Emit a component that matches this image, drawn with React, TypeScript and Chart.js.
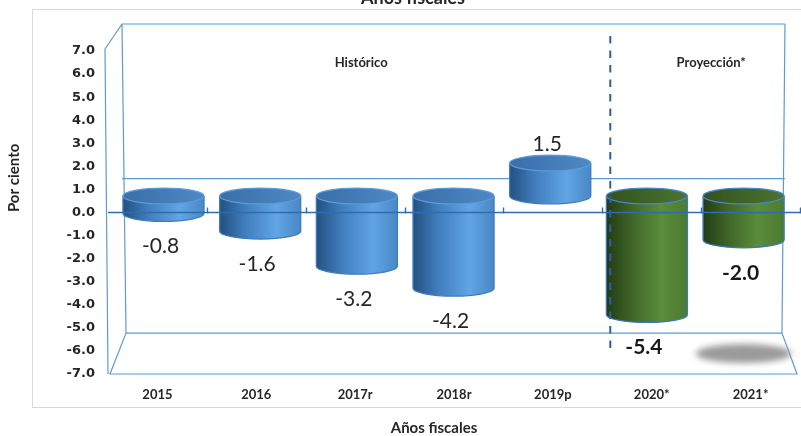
import React, { useEffect, useRef } from 'react';
import { Chart, registerables } from 'chart.js';

Chart.register(...registerables);

// ---- data ----
const categories = ['2015', '2016', '2017r', '2018r', '2019p', '2020*', '2021*'];
const values = [-0.8, -1.6, -3.2, -4.2, 1.5, -5.4, -2.0];
const periods = ['Histórico', 'Histórico', 'Histórico', 'Histórico', 'Histórico', 'Proyección*', 'Proyección*'];
const yMin = -7;
const yMax = 7;
const chartTitle = 'Años fiscales';
const xTitle = 'Años fiscales';
const yTitle = 'Por ciento';

const FONT = 'Lato, "Open Sans", sans-serif';

function drawCylinder(ctx: CanvasRenderingContext2D, cx: number, yTop: number, yBot: number, rx: number, ry: number, green: boolean) {
  const g = ctx.createLinearGradient(cx - rx, 0, cx + rx, 0);
  if (green) {
    g.addColorStop(0, '#223b14');
    g.addColorStop(0.3, '#3e6528');
    g.addColorStop(0.68, '#5b8c3b');
    g.addColorStop(1, '#4b7b30');
  } else {
    g.addColorStop(0, '#24507f');
    g.addColorStop(0.3, '#3f7cbc');
    g.addColorStop(0.7, '#61a5e4');
    g.addColorStop(1, '#4a87c6');
  }
  ctx.beginPath();
  ctx.moveTo(cx - rx, yTop);
  ctx.lineTo(cx - rx, yBot);
  ctx.ellipse(cx, yBot, rx, ry, 0, Math.PI, 0, true);
  ctx.lineTo(cx + rx, yTop);
  ctx.ellipse(cx, yTop, rx, ry, 0, 0, Math.PI, true);
  ctx.closePath();
  ctx.fillStyle = g;
  ctx.fill();
  ctx.strokeStyle = green ? '#3d78b8' : '#3e7cbf';
  ctx.lineWidth = 1.3;
  ctx.beginPath();
  ctx.moveTo(cx - rx, yTop);
  ctx.lineTo(cx - rx, yBot);
  ctx.ellipse(cx, yBot, rx, ry, 0, Math.PI, 0, true);
  ctx.lineTo(cx + rx, yTop);
  ctx.stroke();
  const tg = ctx.createLinearGradient(cx - rx, 0, cx + rx, 0);
  if (green) {
    tg.addColorStop(0, '#33521f');
    tg.addColorStop(1, '#4a7430');
  } else {
    tg.addColorStop(0, '#3a6ea8');
    tg.addColorStop(1, '#4d89c6');
  }
  ctx.beginPath();
  ctx.ellipse(cx, yTop, rx, ry, 0, 0, Math.PI * 2);
  ctx.fillStyle = tg;
  ctx.fill();
  ctx.strokeStyle = green ? '#4a86c8' : '#5c9ad8';
  ctx.lineWidth = 1.3;
  ctx.stroke();
}

const frameColor = '#5b9bd5';

const plugin3d = {
  id: 'cyl3d',
  beforeDraw(chart: any) {
    const { ctx, chartArea: ca, width } = chart;
    const ys = chart.scales.y;
    const L = ca.left, R = ca.right;
    const T = ys.getPixelForValue(yMax), B = ys.getPixelForValue(yMin);
    const z = ys.getPixelForValue(0);
    const bx = (x: number) => L + 14 + (x - L) * 0.9566;
    const by = (y: number) => T - 27 + (y - T) * 0.957;
    ctx.save();
    ctx.fillStyle = '#ffffff';
    ctx.fillRect(0, 0, chart.width, chart.height);
    ctx.strokeStyle = '#d9d9d9';
    ctx.lineWidth = 1;
    ctx.strokeRect(32.5, 9.5, width, 398);

    ctx.strokeStyle = frameColor;
    ctx.lineWidth = 1.2;
    const bl = bx(L), br = bx(R);
    const bT = by(T), bB = by(B), bZ = by(z);
    ctx.beginPath();
    ctx.moveTo(L - 3, T - 2);
    ctx.lineTo(L, B);
    ctx.moveTo(L - 3, T - 2);
    ctx.lineTo(bl, bT);
    ctx.lineTo(br + 1, bT);
    ctx.moveTo(bl, bT);
    ctx.lineTo(bl + 4, bB);
    ctx.moveTo(br + 1, bT);
    ctx.lineTo(br - 2, bB);
    ctx.moveTo(bl + 4, bB);
    ctx.lineTo(br - 2, bB);
    ctx.moveTo(bl + 4, bB);
    ctx.lineTo(L + 2, B);
    ctx.lineTo(R - 3, B);
    ctx.lineTo(br - 2, bB);
    ctx.moveTo(bl, bZ);
    ctx.lineTo(br + 1, bZ);
    ctx.stroke();
    ctx.restore();
  },
  afterDatasetsDraw(chart: any) {
    const { ctx, chartArea: ca } = chart;
    const ys = chart.scales.y;
    const xs = chart.scales.x;
    const meta = chart.getDatasetMeta(0);
    const L = ca.left, R = ca.right;
    const B = ys.getPixelForValue(yMin);
    const z = ys.getPixelForValue(0);
    const T = ys.getPixelForValue(yMax);
    const by = (y: number) => T - 27 + (y - T) * 0.957;
    const c = L + (R - L) * 0.47;
    const px = (x: number) => c + (x - c) * 0.978;
    const ry = 7.8;

    ctx.save();
    const cyl: { cx: number; yTop: number; yBot: number; v: number; proj: boolean }[] = [];
    meta.data.forEach((el: any, i: number) => {
      const cx = px(el.x);
      const rx = el.width / 2;
      const yTop = Math.min(el.y, el.base);
      const yBot = Math.max(el.y, el.base);
      const proj = periods[i] !== periods[0];
      drawCylinder(ctx, cx, yTop, yBot, rx, ry, proj);
      cyl.push({ cx, yTop, yBot, v: values[i], proj });
    });

    ctx.strokeStyle = '#2e6db0';
    ctx.lineWidth = 1.4;
    ctx.beginPath();
    ctx.moveTo(L, z);
    ctx.lineTo(R, z);
    for (let i = 1; i <= categories.length; i++) {
      const tx = Math.round(xs.getPixelForValue(i - 0.5)) + 0.5;
      ctx.moveTo(tx, z - 5);
      ctx.lineTo(tx, z + 1);
    }
    ctx.stroke();

    const firstProj = periods.findIndex((p) => p !== periods[0]);
    const sx = xs.getPixelForValue(firstProj - 0.5) + 8;
    ctx.strokeStyle = '#2f5fa8';
    ctx.lineWidth = 2;
    ctx.setLineDash([7.5, 7]);
    ctx.beginPath();
    ctx.moveTo(sx, T - 15);
    ctx.lineTo(sx, B - 20);
    ctx.stroke();
    ctx.setLineDash([]);

    const last = cyl[cyl.length - 1];
    const floorY = (by(B) + B) / 2;
    ctx.save();
    ctx.filter = 'blur(3px)';
    ctx.fillStyle = '#9a9a9a';
    ctx.beginPath();
    ctx.ellipse(last.cx, floorY, 48, 9.5, 0, 0, Math.PI * 2);
    ctx.fill();
    ctx.restore();

    ctx.textAlign = 'center';
    ctx.textBaseline = 'middle';
    cyl.forEach((cy) => {
      ctx.font = (cy.proj ? 'bold ' : '') + '21px ' + FONT;
      ctx.fillStyle = cy.proj ? '#1a1a1a' : '#262626';
      const txt = cy.v.toFixed(1);
      const ly = cy.v >= 0 ? cy.yTop - ry - 11 : cy.yBot + ry + 25;
      ctx.fillText(txt, cy.cx - 3, ly);
    });

    ctx.font = 'bold 13px ' + FONT;
    ctx.fillStyle = '#262626';
    const histEnd = xs.getPixelForValue(firstProj - 0.5);
    ctx.fillText(periods[0], (L + histEnd) / 2 + 6, T + 12);
    ctx.fillText(periods[periods.length - 1], (histEnd + R) / 2 + 10, T + 12);
    ctx.restore();
  },
  afterDraw(chart: any) {
    const { ctx } = chart;
    const ys = chart.scales.y;
    ctx.save();
    ctx.fillStyle = '#262626';
    ctx.textAlign = 'center';
    ctx.textBaseline = 'alphabetic';
    ctx.font = 'bold 18px ' + FONT;
    ctx.fillText(chartTitle, 413, 4);
    ctx.font = 'bold 15px ' + FONT;
    ctx.textBaseline = 'middle';
    ctx.fillText(xTitle, 434, 428);
    ctx.translate(14, ys.getPixelForValue(1.5));
    ctx.rotate(-Math.PI / 2);
    ctx.font = 'bold 15px ' + FONT;
    ctx.fillText(yTitle, 0, 0);
    ctx.restore();
  },
};

export default function App() {
  const ref = useRef<HTMLCanvasElement>(null);
  useEffect(() => {
    if (!ref.current) return;
    const chart = new Chart(ref.current, {
      type: 'bar',
      data: {
        labels: categories,
        datasets: [
          {
            data: values,
            yAxisID: 'y2',
            backgroundColor: 'rgba(0,0,0,0)',
            borderWidth: 0,
            barPercentage: 1,
            categoryPercentage: 0.82,
          },
        ],
      },
      options: {
        animation: false,
        responsive: true,
        maintainAspectRatio: false,
        events: [],
        layout: { padding: { top: 51, right: 1, left: 0, bottom: 0 } },
        plugins: { legend: { display: false }, tooltip: { enabled: false }, title: { display: false } },
        scales: {
          x: {
            grid: { display: false, drawTicks: false },
            border: { display: false },
            ticks: { font: { family: FONT, weight: 'bold', size: 13 }, color: '#262626', padding: 13 },
            afterFit: (s: any) => {
              s.height = 62;
            },
          },
          y: {
            min: yMin,
            max: yMax,
            grid: { display: false, drawTicks: false },
            border: { display: false },
            ticks: {
              stepSize: 1,
              font: { family: '"DejaVu Sans"', weight: 'bold', size: 13 },
              color: '#262626',
              padding: 13,
              callback: (v: any) => Number(v).toFixed(1),
            },
            afterFit: (s: any) => {
              s.width = 108;
            },
          },
          y2: {
            display: false,
            min: -8.1,
            max: 6.6,
          },
        },
      },
      plugins: [plugin3d],
    });
    return () => chart.destroy();
  }, []);
  return (
    <div style={{ position: 'fixed', left: 0, top: 0, width: 801, height: 436, background: '#fff' }}>
      <canvas ref={ref} />
    </div>
  );
}
